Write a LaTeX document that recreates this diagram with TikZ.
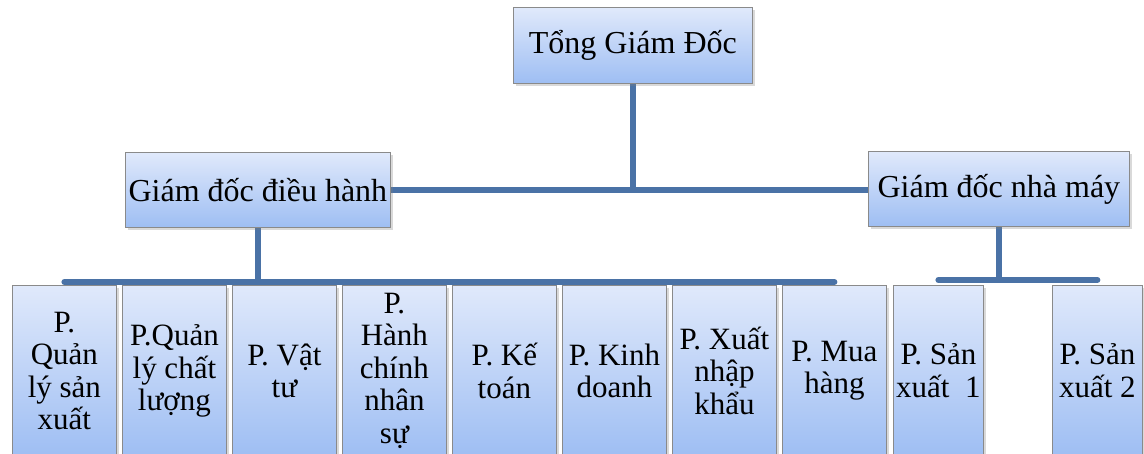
\documentclass[tikz,border=0pt]{standalone}
\usepackage{fontspec}
\setmainfont{Liberation Serif}
\usetikzlibrary{shadows,backgrounds}
\definecolor{linkblue}{RGB}{74,114,166}
\definecolor{boxtop}{RGB}{224,233,251}
\definecolor{boxbot}{RGB}{158,190,243}
\definecolor{boxedge}{RGB}{138,138,138}
\tikzset{
  unit/.style={draw=boxedge, line width=0.8pt, top color=boxtop, bottom color=boxbot,
    drop shadow={shadow xshift=2.5pt, shadow yshift=-2.5pt, opacity=0.3},
    inner sep=1pt, align=center, anchor=north west},
  head/.style={unit, font=\fontsize{32}{36}\selectfont, minimum height=75pt},
  dept/.style={unit, font=\fontsize{31}{32.5}\selectfont, minimum width=104pt, minimum height=171pt},
  plant/.style={dept, minimum width=90pt},
  link/.style={draw=linkblue, line width=6pt, line cap=round},
}
\frenchspacing
\begin{document}
\begin{tikzpicture}[x=1pt, y=-1pt]
\useasboundingbox (0,0) rectangle (1144,454);
\clip (0,0) rectangle (1144,454);

% management levels
\node[head, minimum width=239pt, minimum height=76pt] (top) at (513,7) {Tổng Giám Đốc};
\node[head, minimum width=265pt] (gdh) at (125,152) {Giám đốc điều hành};
\node[head, minimum width=261pt] (gdm) at (868,151) {Giám đốc nhà máy};

% departments under the executive director
\node[dept] (p1) at (12,285)  {P.\\Quản\\lý sản\\xuất};
\node[dept] (p2) at (122,285) {P.Quản\\lý chất\\lượng};
\node[dept] (p3) at (232,285) {P. Vật\\tư};
\node[dept] (p4) at (342,285) {P.\\Hành\\chính\\nhân\\sự};
\node[dept] (p5) at (452,285) {P. Kế\\toán};
\node[dept] (p6) at (562,285) {P. Kinh\\doanh};
\node[dept] (p7) at (672,285) {P. Xuất\\nhập\\khẩu};
\node[dept] (p8) at (782,285) {P. Mua\\hàng};

% production units under the plant director
\node[plant] (s1) at (893,285)  {P. Sản\\xuất\ \ 1};
\node[plant] (s2) at (1052,285) {P. Sản\\xuất 2};

\coordinate (busL) at (0,282);
\coordinate (busR) at (0,280);

\begin{scope}[on background layer]
  \draw[link] (top.south) -- (top.south |- gdh.east);
  \draw[link] (gdh.east) -- (gdh.east -| gdm.west);
  \draw[link] (gdh.south) -- (gdh.south |- busL);
  \draw[link] (p1.north |- busL) -- (p8.north |- busL);
  \draw[link] (gdm.south) -- (gdm.south |- busR);
  \draw[link] (s1.north |- busR) -- (s2.north |- busR);
\end{scope}
\end{tikzpicture}
\end{document}
